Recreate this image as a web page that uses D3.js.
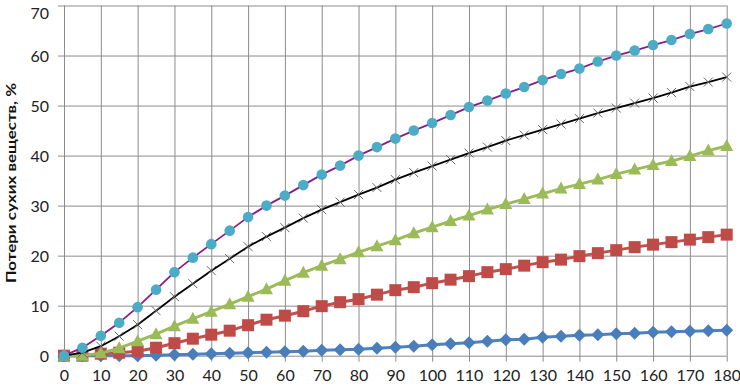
<!DOCTYPE html>
<html><head><meta charset="utf-8">
<script src="https://cdn.jsdelivr.net/npm/d3@7"></script>
<style>body{margin:0;background:#fff}svg{display:block}</style>
</head><body>
<svg id="c" width="740" height="389"></svg>
<script>
const xValues = [0,5,10,15,20,25,30,35,40,45,50,55,60,65,70,75,80,85,90,95,100,105,110,115,120,125,130,135,140,145,150,155,160,165,170,175,180];
const xTicks = [0,10,20,30,40,50,60,70,80,90,100,110,120,130,140,150,160,170,180];
const yTicks = [0,10,20,30,40,50,60,70];
const seriesBlue = [0,0,0,0,0,0.1,0.2,0.3,0.4,0.5,0.6,0.7,0.8,0.9,1.1,1.2,1.3,1.5,1.7,1.9,2.2,2.4,2.6,2.9,3.2,3.3,3.7,3.9,4.1,4.2,4.4,4.5,4.7,4.8,4.9,5.0,5.1];
const seriesRed = [0,0,0.4,0.6,0.9,1.6,2.5,3.4,4.2,5.0,6.1,7.2,8.0,8.9,9.9,10.7,11.3,12.2,13.1,13.7,14.5,15.2,15.9,16.7,17.3,18.0,18.7,19.2,19.9,20.5,21.1,21.7,22.2,22.7,23.2,23.7,24.2];
const seriesGreen = [0,0,0.5,1.5,2.9,4.3,5.9,7.4,8.8,10.3,11.8,13.3,15.0,16.6,18.0,19.3,20.7,21.9,23.1,24.5,25.7,26.9,28.0,29.2,30.3,31.3,32.4,33.4,34.3,35.2,36.3,37.2,38.1,38.9,39.9,41.0,41.9];
const seriesBlack = [0,0.6,1.9,3.9,6.2,9.0,11.8,14.4,17.0,19.4,21.8,23.8,25.6,27.5,29.2,30.7,32.2,33.6,35.2,36.6,37.9,39.2,40.5,41.7,43.0,44.1,45.2,46.3,47.4,48.5,49.5,50.5,51.5,52.6,53.8,54.7,55.7];
const seriesCyan = [0,1.6,4.0,6.6,9.7,13.2,16.7,19.6,22.3,25.0,27.7,30.0,32.0,34.1,36.2,38.0,40.0,41.7,43.4,45.0,46.5,48.1,49.7,51.0,52.4,53.7,55.1,56.3,57.4,58.8,60.0,61.0,62.1,63.1,64.3,65.3,66.4];
const yTitle = "Потери сухих веществ, %";

const svg = d3.select("#c");
const L = 64, R = 726.7, T = 5.5, B = 355.7;
const x = d3.scaleLinear().domain([0,180]).range([L,R]);
const y = d3.scaleLinear().domain([0,70]).range([B,T]);
const font = "Lato, 'Open Sans', sans-serif";
const grid = "#8c8c8c";

const gy = svg.append("g").attr("transform",`translate(${L},0)`)
  .call(d3.axisLeft(y).tickValues(yTicks).tickSize(-(R-L)).tickSizeOuter(0).tickPadding(15));
gy.select(".domain").remove();
gy.selectAll(".tick line").attr("stroke",grid).attr("x1",-6).attr("stroke-width",1);
gy.selectAll(".tick text").attr("font-family",font).attr("font-size",16).attr("fill","#222")
  .attr("dy",d => d === 70 ? "0.8em" : "0.36em");

const gx = svg.append("g").attr("transform",`translate(0,${B})`)
  .call(d3.axisBottom(x).tickValues(xTicks).tickSize(-(B-T)).tickSizeOuter(0).tickPadding(14));
gx.select(".domain").remove();
gx.selectAll(".tick line").attr("stroke",grid).attr("y1",6).attr("stroke-width",1);
gx.selectAll(".tick text").attr("font-family",font).attr("font-size",16).attr("fill","#222");

svg.append("text").attr("transform",`translate(16,183) rotate(-90)`)
  .attr("text-anchor","middle").attr("font-family",font).attr("font-weight","bold")
  .attr("font-size",14).attr("fill","#111").attr("textLength",200).attr("lengthAdjust","spacingAndGlyphs")
  .text(yTitle);

const line = d3.line().x((d,i)=>x(xValues[i])).y(d=>y(d));

function drawSeries(vals, lineColor, lw, markerFn){
  svg.append("path").datum(vals).attr("d",line).attr("fill","none")
    .attr("stroke",lineColor).attr("stroke-width",lw).attr("stroke-linejoin","round");
  const g = svg.append("g");
  vals.forEach((v,i)=>markerFn(g, x(xValues[i]), y(v)));
}

drawSeries(seriesBlue,"#4f81bd",3,(g,px,py)=>{
  g.append("path").attr("d",`M${px},${py-6.5}L${px+6.5},${py}L${px},${py+6.5}L${px-6.5},${py}Z`).attr("fill","#4a7ebb");
});
drawSeries(seriesRed,"#c0504d",3,(g,px,py)=>{
  g.append("rect").attr("x",px-6).attr("y",py-6).attr("width",12).attr("height",12).attr("fill","#be4b48");
});
drawSeries(seriesGreen,"#9bbb59",3,(g,px,py)=>{
  g.append("path").attr("d",`M${px},${py-7}L${px+6.5},${py+5}L${px-6.5},${py+5}Z`).attr("fill","#9bbb59");
});
drawSeries(seriesBlack,"#000",1.8,(g,px,py)=>{
  g.append("path").attr("d",`M${px-4.5},${py-4.5}L${px+4.5},${py+4.5}M${px+4.5},${py-4.5}L${px-4.5},${py+4.5}`)
    .attr("stroke","#666").attr("stroke-width",1);
});
drawSeries(seriesCyan,"#8b1a8b",1.8,(g,px,py)=>{
  g.append("circle").attr("cx",px).attr("cy",py).attr("r",5.3).attr("fill","#4bacc6");
});
</script>
</body></html>
